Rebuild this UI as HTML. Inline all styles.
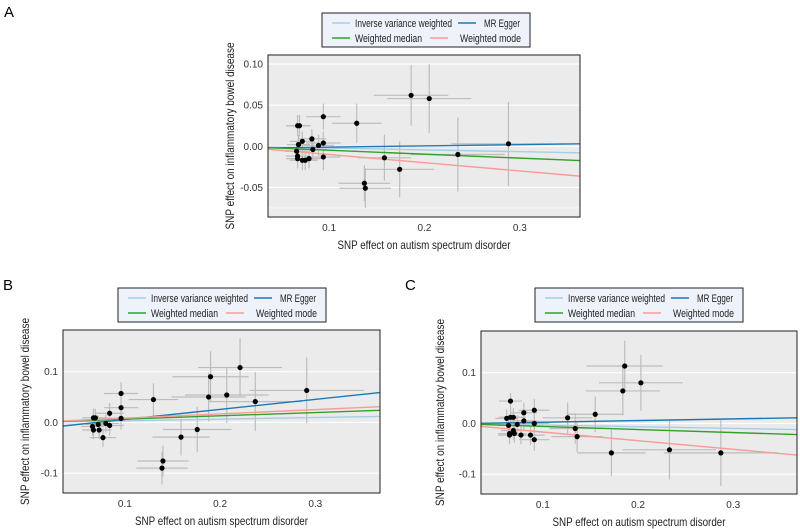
<!DOCTYPE html>
<html><head><meta charset="utf-8"><style>
html,body{margin:0;padding:0;background:#fff;}
svg{display:block;font-family:"Liberation Sans",sans-serif;}
</style></head><body>
<svg id="fig" width="800" height="529" viewBox="0 0 800 529"></svg>
<script>
// ---------- DATA ----------
const seriesNames = ["Inverse variance weighted","MR Egger","Weighted median","Weighted mode"];
const seriesColors = ["#a6cee3","#1f78b4","#33a02c","#fb9a99"];

// Panel A
const aX   = [0.066,0.067,0.069,0.068,0.072,0.067,0.067,0.072,0.075,0.079,0.082,0.083,0.089,0.094,0.094,0.094,0.129,0.158,0.137,0.138,0.174,0.186,0.205,0.235,0.288];
const aY   = [-0.006,0.025,0.025,0.002,0.006,-0.012,-0.015,-0.017,-0.017,-0.015,0.009,-0.004,0.001,0.004,0.036,-0.013,0.028,-0.014,-0.045,-0.051,-0.028,0.062,0.058,-0.010,0.003];
const aXse = [0.012,0.012,0.012,0.012,0.013,0.012,0.012,0.013,0.013,0.014,0.015,0.015,0.016,0.018,0.018,0.018,0.026,0.028,0.027,0.027,0.036,0.039,0.044,0.049,0.060];
const aYse = [0.012,0.013,0.013,0.012,0.012,0.012,0.012,0.012,0.012,0.012,0.012,0.012,0.013,0.014,0.016,0.016,0.024,0.028,0.022,0.024,0.034,0.037,0.042,0.045,0.051];
const aSlope = [-0.022,0.0153,-0.048,-0.100];
const aIntercept = [0,-0.0026,0,0];
const aYTicks = [0.10,0.05,0.00,-0.05];
const aYTickLabels = ["0.10","0.05","0.00","-0.05"];

// Panel B
const bX   = [0.067,0.066,0.067,0.069,0.072,0.073,0.077,0.080,0.084,0.084,0.096,0.096,0.096,0.130,0.159,0.176,0.140,0.139,0.188,0.190,0.207,0.221,0.237,0.291];
const bY   = [0.009,-0.008,-0.015,0.009,-0.004,-0.015,-0.030,-0.002,0.018,-0.006,0.057,0.029,0.008,0.045,-0.029,-0.014,-0.076,-0.090,0.050,0.090,0.054,0.108,0.041,0.063];
const bXse = [0.012,0.012,0.012,0.013,0.013,0.013,0.014,0.014,0.015,0.015,0.018,0.018,0.018,0.026,0.030,0.036,0.027,0.027,0.039,0.040,0.044,0.044,0.049,0.060];
const bYse = [0.018,0.018,0.018,0.018,0.018,0.018,0.018,0.018,0.020,0.020,0.022,0.022,0.022,0.032,0.036,0.045,0.030,0.032,0.048,0.050,0.055,0.058,0.058,0.065];
const bSlope = [0.032,0.198,0.065,0.084];
const bIntercept = [0,-0.014,0,0];
const bYTicks = [0.1,0.0,-0.1];
const bYTickLabels = ["0.1","0.0","-0.1"];

// Panel C
const cX   = [0.062,0.066,0.064,0.065,0.065,0.066,0.069,0.069,0.070,0.073,0.077,0.080,0.080,0.087,0.091,0.091,0.091,0.126,0.134,0.136,0.155,0.172,0.184,0.186,0.203,0.233,0.287];
const cY   = [0.010,0.044,-0.004,-0.020,-0.023,0.012,0.012,-0.014,-0.020,-0.002,-0.023,0.021,0.005,-0.023,0.026,-0.032,0.000,0.011,-0.010,-0.026,0.018,-0.058,0.064,0.113,0.080,-0.052,-0.058];
const cXse = [0.012,0.012,0.012,0.012,0.012,0.012,0.013,0.013,0.013,0.013,0.014,0.014,0.014,0.015,0.016,0.016,0.016,0.026,0.027,0.027,0.030,0.036,0.039,0.040,0.044,0.049,0.060];
const cYse = [0.018,0.016,0.018,0.018,0.018,0.018,0.018,0.018,0.018,0.018,0.018,0.020,0.020,0.020,0.022,0.022,0.022,0.030,0.030,0.030,0.035,0.045,0.048,0.050,0.055,0.058,0.065];
const cSlope = [-0.033,0.033,-0.060,-0.170];
const cIntercept = [0,-0.001,0,0];
const cYTicks = [0.1,0.0,-0.1];
const cYTickLabels = ["0.1","0.0","-0.1"];

const xTicks = [0.1,0.2,0.3];
const xTickLabels = ["0.1","0.2","0.3"];

// ---------- DRAW ----------
const NS="http://www.w3.org/2000/svg";
const svg=document.getElementById('fig');
function mk(tag,attrs,parent){const e=document.createElementNS(NS,tag);for(const k in attrs)e.setAttribute(k,attrs[k]);(parent||svg).appendChild(e);return e;}

function panel(p){
  const g=mk('g',{});
  
  
  const sx=v=>p.L+(v-p.x0)/(p.x1-p.x0)*(p.R-p.L);
  const sy=v=>p.B-(v-p.y0)/(p.y1-p.y0)*(p.B-p.T);
  const lt=mk('text',{x:p.lx,y:p.ly,'font-size':15,fill:'#000'},g);lt.textContent=p.id.toUpperCase();
  
  const lg=mk('g',{},g);
  
  mk('rect',{x:p.gx,y:p.gy,width:208,height:34,fill:'#eef2fa',stroke:'#222','stroke-width':1},lg);
  const pos=[[10,10,33,97],[136,10,162,36],[10,25,33,67],[108,25,138,61]];
  for(let i=0;i<4;i++){
    const [lx,ly,tx,tw]=pos[i];
    const e=mk('g',{},lg);
    
    mk('line',{x1:p.gx+lx,x2:p.gx+lx+18,y1:p.gy+ly,y2:p.gy+ly,stroke:seriesColors[i],'stroke-width':1.6},e);
    const t=mk('text',{x:p.gx+tx,y:p.gy+ly+4,'font-size':11,fill:'#222',textLength:tw,lengthAdjust:'spacingAndGlyphs'},e);
    t.textContent=seriesNames[i];
  }
  const bg=mk('rect',{x:p.L,y:p.T,width:p.R-p.L,height:p.B-p.T,fill:'#ebebeb'},g);
  
  for(const v of p.minor){mk('line',{x1:p.L,x2:p.R,y1:sy(v),y2:sy(v),stroke:'#fff','stroke-width':0.6},g);}
  for(let i=0;i<p.yt.length;i++){
    const y=sy(p.yt[i]);
    mk('line',{x1:p.L,x2:p.R,y1:y,y2:y,stroke:'#fff','stroke-width':1.1},g);
    const t=mk('text',{x:p.L-5,y:y+3.5,'font-size':10,'text-anchor':'end',fill:'#333'},g);t.textContent=p.ytl[i];
    
  }
  for(let i=0;i<xTicks.length;i++){
    const t=mk('text',{x:sx(xTicks[i]),y:p.B+14,'font-size':10,'text-anchor':'middle',fill:'#333'},g);t.textContent=xTickLabels[i];
    
  }
  const clip=mk('clipPath',{id:'clip'+p.id},g);
  mk('rect',{x:p.L,y:p.T,width:p.R-p.L,height:p.B-p.T},clip);
  const inner=mk('g',{'clip-path':'url(#clip'+p.id+')'},g);
  for(let i=0;i<p.X.length;i++){
    mk('line',{x1:sx(p.X[i]-p.Xse[i]),x2:sx(p.X[i]+p.Xse[i]),y1:sy(p.Y[i]),y2:sy(p.Y[i]),stroke:'#bdbdbd','stroke-width':1.2},inner);
    mk('line',{x1:sx(p.X[i]),x2:sx(p.X[i]),y1:sy(p.Y[i]-p.Yse[i]),y2:sy(p.Y[i]+p.Yse[i]),stroke:'#bdbdbd','stroke-width':1.2},inner);
  }
  for(let k=0;k<4;k++){
    const l=mk('line',{x1:p.L,x2:p.R,y1:sy(p.ic[k]+p.sl[k]*p.x0),y2:sy(p.ic[k]+p.sl[k]*p.x1),stroke:seriesColors[k],'stroke-width':1.4},inner);
    
    
  }
  for(let i=0;i<p.X.length;i++){
    const c=mk('circle',{cx:sx(p.X[i]),cy:sy(p.Y[i]),r:2.6,fill:'#000'},inner);
    
    
  }
  mk('rect',{x:p.L,y:p.T,width:p.R-p.L,height:p.B-p.T,fill:'none',stroke:'#222','stroke-width':1},g);
  const xt=mk('text',{x:(p.L+p.R)/2,y:p.B+32,'font-size':12,'text-anchor':'middle',fill:'#222',textLength:173,lengthAdjust:'spacingAndGlyphs'},g);
  xt.textContent='SNP effect on autism spectrum disorder';
  
  const cy=(p.T+p.B)/2;
  const yt=mk('text',{x:0,y:0,'font-size':12,'text-anchor':'middle',fill:'#222',textLength:187,lengthAdjust:'spacingAndGlyphs',transform:`translate(${p.yx},${cy}) rotate(-90)`},g);
  yt.textContent='SNP effect on inflammatory bowel disease';
  
}

panel({id:'a',L:268,R:580,T:55,B:217,x0:0.036,x1:0.363,y0:-0.086,y1:0.111,X:aX,Y:aY,Xse:aXse,Yse:aYse,sl:aSlope,ic:aIntercept,yt:aYTicks,ytl:aYTickLabels,minor:[-0.075],gx:322,gy:13,lx:4,ly:17,yx:234});
panel({id:'b',L:63,R:380,T:330,B:493,x0:0.035,x1:0.368,y0:-0.139,y1:0.182,X:bX,Y:bY,Xse:bXse,Yse:bYse,sl:bSlope,ic:bIntercept,yt:bYTicks,ytl:bYTickLabels,minor:[],gx:118,gy:288,lx:3,ly:290,yx:29});
panel({id:'c',L:481,R:797,T:331,B:494,x0:0.035,x1:0.367,y0:-0.139,y1:0.182,X:cX,Y:cY,Xse:cXse,Yse:cYse,sl:cSlope,ic:cIntercept,yt:cYTicks,ytl:cYTickLabels,minor:[],gx:535,gy:288,lx:405,ly:290,yx:444});
</script>
</body></html>
